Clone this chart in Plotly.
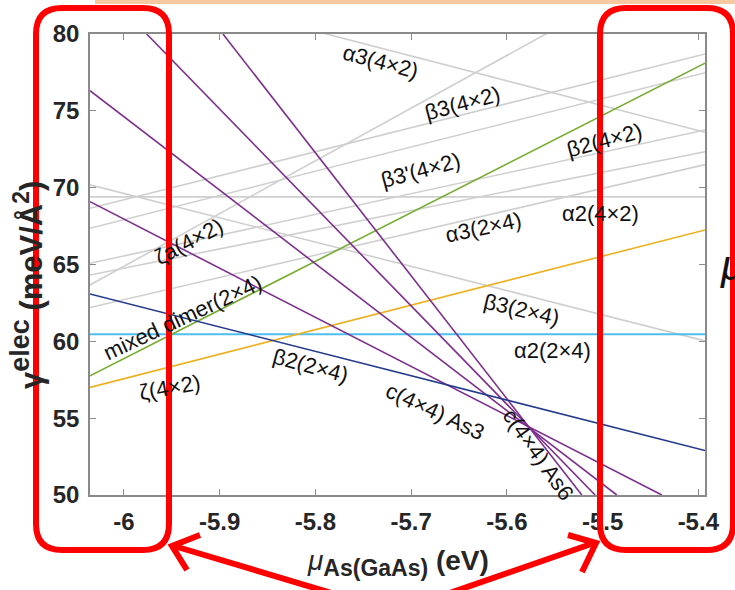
import plotly.graph_objects as go

# ---- axis ranges / ticks ----
X_RANGE = [-6.0355, -5.393]
Y_RANGE = [50, 80]
x_ticks = [-6, -5.9, -5.8, -5.7, -5.6, -5.5, -5.4]
x_tick_labels = ["-6", "-5.9", "-5.8", "-5.7", "-5.6", "-5.5", "-5.4"]
y_ticks = [50, 55, 60, 65, 70, 75, 80]

# ---- gray lines: value at left edge and right edge of the axis ----
gray_left = [70.18, 69.40, 68.66, 67.36, 65.08, 64.32, 63.67, 84.0, 62.2]
gray_right = [60.03, 69.40, 78.70, 77.48, 73.75, 72.34, 85.7, 73.6, 71.5]

# ---- coloured lines: (x0, y0, x1, y1) ----
purple_x0 = [-6.0355, -6.0355, -5.9763, -5.8966]
purple_y0 = [69.09, 76.31, 80.0, 80.0]
purple_x1 = [-5.4381, -5.4852, -5.5078, -5.5217]
purple_y1 = [50.0, 50.0, 50.0, 50.0]

navy_y = [63.08, 52.89]
green_y = [57.75, 78.10]
orange_y = [57.00, 67.25]
cyan_y = [60.46, 60.46]

# ---- labels: text, x, y (data), angle ----
label_text = ["α3(4×2)", "β3(4×2)", "β3'(4×2)", "β2(4×2)", "α3(2×4)", "α2(4×2)",
              "ζa(4×2)", "mixed dimer(2×4)", "β3(2×4)", "α2(2×4)", "ζ(4×2)",
              "β2(2×4)", "c(4×4) As3", "c(4×4) As6"]
label_x = [-5.7325, -5.6468, -5.6907, -5.4984, -5.6249, -5.5026,
           -5.9321, -5.9384, -5.5852, -5.5528, -5.9519,
           -5.8056, -5.6750, -5.5674]
label_y = [78.18, 75.51, 71.15, 73.10, 67.38, 68.35,
           66.47, 61.52, 62.04, 59.38, 56.97,
           58.40, 55.41, 52.61]
label_angle = [15, -15, -15, -15, -12, 0, -28, -25, 13, 0, -10, 15, 25, 55]

W, H = 735, 590
ML, MR, MT, MB = 90, 30, 34, 95
PW, PH = W - ML - MR, H - MT - MB
FONT = "Liberation Sans, Arial, sans-serif"


def px(x):
    return (x - ML) / PW


def py(y):
    return (H - MB - y) / PH


fig = go.Figure()

for yl, yr in zip(gray_left, gray_right):
    fig.add_trace(go.Scatter(x=X_RANGE, y=[yl, yr], mode="lines",
                             line=dict(color="#cfcfcf", width=1.6),
                             hoverinfo="skip", showlegend=False))

fig.add_trace(go.Scatter(x=X_RANGE, y=cyan_y, mode="lines",
                         line=dict(color="#4dbeee", width=1.8), showlegend=False))
fig.add_trace(go.Scatter(x=X_RANGE, y=orange_y, mode="lines",
                         line=dict(color="#edb120", width=1.6), showlegend=False))
fig.add_trace(go.Scatter(x=X_RANGE, y=green_y, mode="lines",
                         line=dict(color="#77ac30", width=1.6), showlegend=False))
for a, b, c, d in zip(purple_x0, purple_y0, purple_x1, purple_y1):
    fig.add_trace(go.Scatter(x=[a, c], y=[b, d], mode="lines",
                             line=dict(color="#7e2f8e", width=1.6), showlegend=False))
fig.add_trace(go.Scatter(x=X_RANGE, y=navy_y, mode="lines",
                         line=dict(color="#263a8c", width=1.6), showlegend=False))

for t, x, y, ang in zip(label_text, label_x, label_y, label_angle):
    fig.add_annotation(x=x, y=y, text=t, showarrow=False, textangle=ang,
                       xanchor="center", yanchor="middle",
                       font=dict(family=FONT, size=22, color="#111111"))

# axis titles
fig.add_annotation(xref="paper", yref="paper", x=px(398), y=py(563),
                   xanchor="center", yanchor="middle",
                   text=("<span style='font-weight:normal'><i>μ</i></span>"
                         "<sub><span style='font-size:23px'><b>As(GaAs)</b></span></sub>"
                         " <b>(eV)</b>"),
                   showarrow=False, font=dict(family=FONT, size=28, color="#262626"))
fig.add_annotation(xref="paper", yref="paper", x=px(27), y=py(285), textangle=-90,
                   xanchor="center", yanchor="middle",
                   text=("<b>γ<sup><span style='font-size:27px'>elec</span></sup>"
                         " (meV/Å<sup><span style='font-size:23px'>2</span></sup>)</b>"),
                   showarrow=False, font=dict(family=FONT, size=31, color="#262626"))
# partial slide text at right
fig.add_annotation(xref="paper", yref="paper", x=px(718), y=py(265),
                   xanchor="left", yanchor="middle",
                   text="<i>μ</i>", showarrow=False,
                   font=dict(family=FONT, size=42, color="#111111"))

red = "#ff0000"


def rounded_rect(x0, y0, x1, y1, r):
    pts = [
        f"M {px(x0 + r)},{py(y0)}",
        f"L {px(x1 - r)},{py(y0)}",
        f"Q {px(x1)},{py(y0)} {px(x1)},{py(y0 + r)}",
        f"L {px(x1)},{py(y1 - r)}",
        f"Q {px(x1)},{py(y1)} {px(x1 - r)},{py(y1)}",
        f"L {px(x0 + r)},{py(y1)}",
        f"Q {px(x0)},{py(y1)} {px(x0)},{py(y1 - r)}",
        f"L {px(x0)},{py(y0 + r)}",
        f"Q {px(x0)},{py(y0)} {px(x0 + r)},{py(y0)}",
        "Z",
    ]
    return " ".join(pts)


def polyline(points):
    return "M " + " L ".join(f"{px(a)},{py(b)}" for a, b in points)


shapes = [
    dict(type="rect", xref="paper", yref="paper", x0=px(95), x1=px(735), y0=py(0), y1=py(4),
         fillcolor="#f7c9a3", line=dict(width=0), layer="above"),
    dict(type="path", xref="paper", yref="paper", path=rounded_rect(36, 8, 169, 550, 26),
         line=dict(color=red, width=6), layer="above"),
    dict(type="path", xref="paper", yref="paper", path=rounded_rect(600, 8, 733, 550, 26),
         line=dict(color=red, width=6), layer="above"),
    dict(type="path", xref="paper", yref="paper",
         path=polyline([(174, 546), (395, 612), (594, 543)]),
         line=dict(color=red, width=6), layer="above"),
    dict(type="path", xref="paper", yref="paper",
         path=polyline([(200, 535), (172, 546), (187, 570)]),
         line=dict(color=red, width=6), layer="above"),
    dict(type="path", xref="paper", yref="paper",
         path=polyline([(568, 535), (596, 543), (582, 572)]),
         line=dict(color=red, width=6), layer="above"),
]

axis_common = dict(showline=True, linecolor="#8a8a8a", linewidth=1.5, mirror="ticks",
                   ticks="inside", ticklen=6, tickcolor="#8a8a8a", showgrid=False,
                   zeroline=False, ticklabelstandoff=4,
                   tickfont=dict(family=FONT, size=24, color="#262626", weight="bold"))

fig.update_layout(
    width=W, height=H,
    margin=dict(l=ML, r=MR, t=MT, b=MB),
    paper_bgcolor="white", plot_bgcolor="white",
    showlegend=False,
    shapes=shapes,
    xaxis=dict(range=X_RANGE, tickvals=x_ticks, ticktext=x_tick_labels, **axis_common),
    yaxis=dict(range=Y_RANGE, tickvals=y_ticks, **axis_common),
)

fig.write_html("out.html", config={"displayModeBar": False},
               post_script="document.body.style.margin='0';")
